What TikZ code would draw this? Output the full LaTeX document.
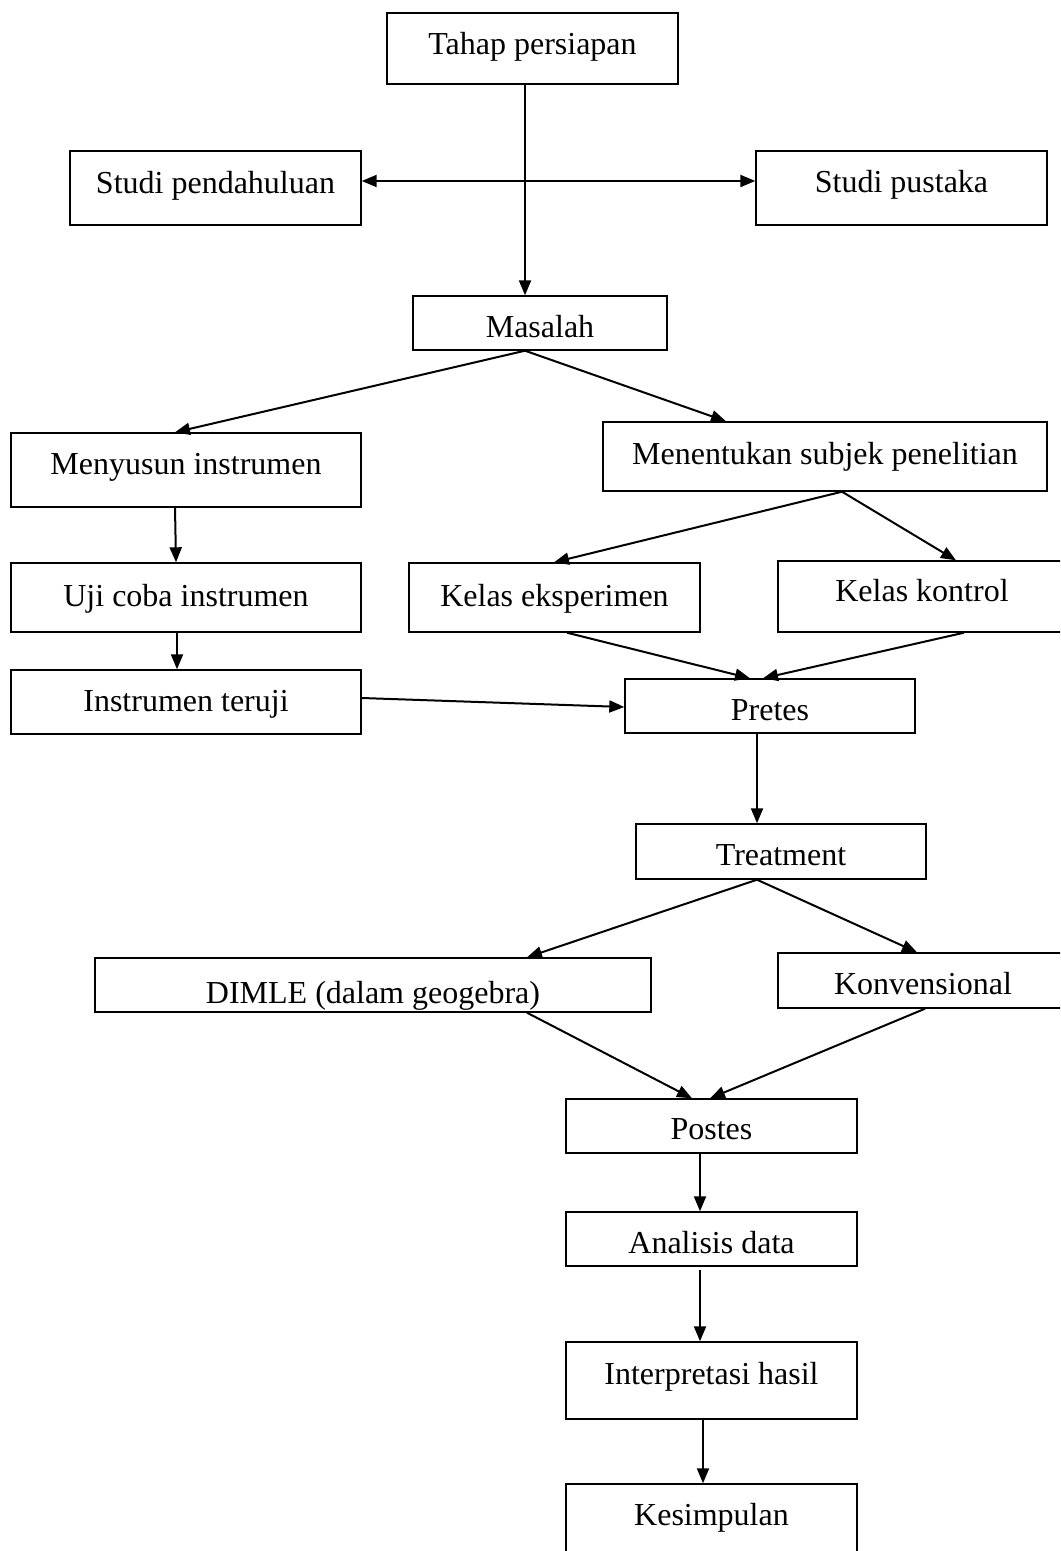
\documentclass[tikz,border=0pt]{standalone}
\usepackage{fontspec}
\setmainfont{Liberation Serif}
\usetikzlibrary{arrows.meta,calc}
\begin{document}
\begin{tikzpicture}[x=0.5pt,y=-0.5pt,
  box/.style={draw, line width=0.7pt, inner sep=0pt},
  txt/.style={anchor=base, inner sep=0pt, font=\fontsize{16}{19}\selectfont},
  arr/.style={line width=1pt, -{Triangle[length=7.5pt,width=6pt]}},
  darr/.style={line width=1pt, {Triangle[length=7.5pt,width=6pt]}-{Triangle[length=7.5pt,width=6pt]}}]
\useasboundingbox (0,0) rectangle (1060,1551);
\clip (0,0) rectangle (1060,1551);
\fill[white] (0,0) rectangle (1060,1551);
% boxes
\node[box, minimum width=145.5pt, minimum height=35.5pt] (tahap) at (532.5,48.5) {};
\node[box, minimum width=145.5pt, minimum height=37pt] (sp) at (215.5,188) {};
\node[box, minimum width=145.5pt, minimum height=37pt] (spk) at (901.5,188) {};
\node[box, minimum width=127pt, minimum height=27pt] (mas) at (540,323) {};
\node[box, minimum width=175pt, minimum height=37pt] (meny) at (186,470) {};
\node[box, minimum width=222pt, minimum height=34.5pt] (ment) at (825,456.5) {};
\node[box, minimum width=175pt, minimum height=34.5pt] (uji) at (186,597.5) {};
\node[box, minimum width=145.5pt, minimum height=34.5pt] (keks) at (554.5,597.5) {};
\node[box, minimum width=144pt, minimum height=35.5pt] (kkon) at (922,596.5) {};
\node[box, minimum width=175pt, minimum height=32pt] (instr) at (186,702) {};
\node[box, minimum width=145pt, minimum height=27pt] (pretes) at (770,706) {};
\node[box, minimum width=145pt, minimum height=27.5pt] (treat) at (781,851.5) {};
\node[box, minimum width=278pt, minimum height=27pt] (dimle) at (373,985) {};
\node[box, minimum width=145pt, minimum height=27.5pt] (konv) at (923,980.5) {};
\node[box, minimum width=145.5pt, minimum height=27pt] (postes) at (711.5,1126) {};
\node[box, minimum width=145.5pt, minimum height=27pt] (anal) at (711.5,1239) {};
\node[box, minimum width=145.5pt, minimum height=38.5pt] (interp) at (711.5,1380.5) {};
\node[box, minimum width=145.5pt, minimum height=43pt] (kesim) at (711.5,1527) {};
% texts
\node[txt] (t-tahap) at (532.5,55) {Tahap persiapan};
\node[txt] (t-sp) at (215.5,194) {Studi pendahuluan};
\node[txt] (t-spk) at (901.5,193) {Studi pustaka};
\node[txt] (t-mas) at (540,337) {Masalah};
\node[txt] (t-meny) at (186,474) {Menyusun instrumen};
\node[txt] (t-ment) at (825,464) {Menentukan subjek penelitian};
\node[txt] (t-uji) at (186,606) {Uji coba instrumen};
\node[txt] (t-keks) at (554.5,606) {Kelas eksperimen};
\node[txt] (t-kkon) at (922,601) {Kelas kontrol};
\node[txt] (t-instr) at (186,711) {Instrumen teruji};
\node[txt] (t-pretes) at (770,720) {Pretes};
\node[txt] (t-treat) at (781,865) {Treatment};
\begin{scope}
  \clip (dimle.south west) rectangle (dimle.north east);
  \node[txt] (t-dimle) at (373,1003) {DIMLE (dalam geogebra)};
\end{scope}
\node[txt] (t-konv) at (923,994) {Konvensional};
\node[txt] (t-postes) at (711.5,1139) {Postes};
\node[txt] (t-anal) at (711.5,1253) {Analisis data};
\node[txt] (t-interp) at (711.5,1384) {Interpretasi hasil};
\node[txt] (t-kesim) at (711.5,1525) {Kesimpulan};
% connectors
\draw[arr] ($(tahap.south)+(-7.5,0)$) -- ($(mas.north)+(-15,0)$);
\draw[darr] ($(sp.east)+(0,-7)$) -- ($(spk.west)+(0,-7)$);
\draw[arr] ($(mas.south)+(-15,0)$) -- ($(meny.north)+(-11,0)$);
\draw[arr] ($(mas.south)+(-15,0)$) -- ($(ment.north)+(-99,0)$);
\draw[arr] ($(meny.south)+(-11,0)$) -- ($(uji.north)+(-10,0)$);
\draw[arr] ($(uji.south)+(-9,0)$) -- ($(instr.north)+(-9,0)$);
\draw[arr] ($(ment.south)+(17,0)$) -- ($(keks.north)+(-0.5,0)$);
\draw[arr] ($(ment.south)+(17,0)$) -- ($(kkon.north)+(34,0)$);
\draw[arr] ($(keks.south)+(12.5,0)$) -- ($(pretes.north)+(-20,0)$);
\draw[arr] ($(kkon.south)+(42,0)$) -- ($(pretes.north)+(-7,0)$);
\draw[arr] ($(instr.east)+(0,-4)$) -- ($(pretes.west)+(0,1)$);
\draw[arr] ($(pretes.south)+(-13,0)$) -- ($(treat.north)+(-24,0)$);
\draw[arr] ($(treat.south)+(-24,0)$) -- ($(dimle.north)+(154,0)$);
\draw[arr] ($(treat.south)+(-24,0)$) -- ($(konv.north)+(-6,0)$);
\draw[arr] ($(dimle.south)+(154,0)$) -- ($(postes.north)+(-19.5,0)$);
\draw[arr] ($(konv.south)+(2,0)$) -- ($(postes.north)+(-1.5,0)$);
\draw[arr] ($(postes.south)+(-11.5,0)$) -- ($(anal.north)+(-11.5,0)$);
\draw[arr] ($(anal.south)+(-11.5,3)$) -- ($(interp.north)+(-11.5,0)$);
\draw[arr] ($(interp.south)+(-8.5,0)$) -- ($(kesim.north)+(-8.5,0)$);
\end{tikzpicture}
\end{document}
